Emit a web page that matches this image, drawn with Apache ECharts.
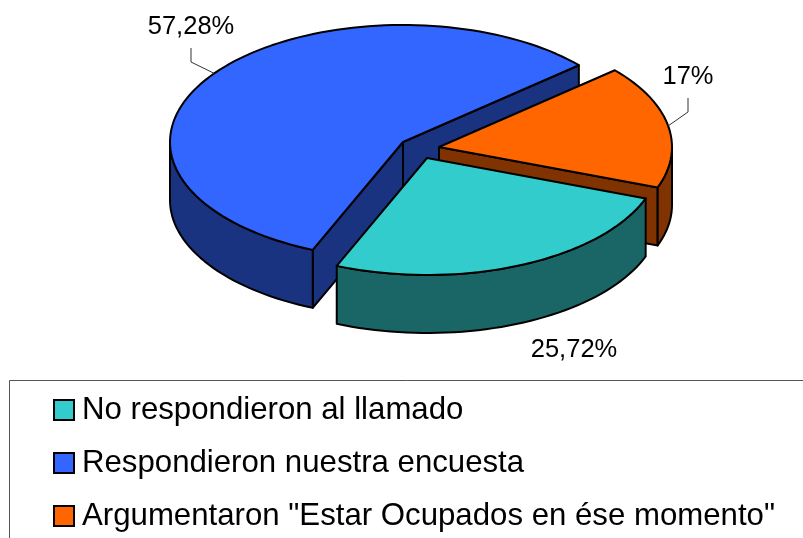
<!DOCTYPE html>
<html>
<head>
<meta charset="utf-8">
<title>Encuesta</title>
<script src="https://cdn.jsdelivr.net/npm/echarts@6/dist/echarts.min.js"></script>
<style>
    html, body { margin: 0; padding: 0; background: #fff; }
    #chart { width: 803px; height: 538px; }
</style>
</head>
<body>
<div id="chart"></div>
<script>
const categories = ['No respondieron al llamado', 'Respondieron nuestra encuesta', 'Argumentaron "Estar Ocupados en ése momento"'];
const values = [25.72, 57.28, 17];
const valueLabels = ['25,72%', '57,28%', '17%'];
const topColors = ['#33cccc', '#3366ff', '#ff6600'];
const wallColors = ['#1a6666', '#1a3380', '#803300'];

// layout of the fake 3d pie
const RX = 233;
const RY = 117;
const DEPTH = 58;
const START_ANGLE = 41;
const drawOrder = [1, 2, 0];
const apexes = [[427, 158], [403, 142], [439, 147]];
const labelSpots = [[574, 350], [191, 27], [688, 77]];
const leaderElbows = [null, [[191, 62], [191, 48]], [[688, 112], [688, 98]]];
// which cut edges show a wall: blue shows both, orange only its lower one
const cutFaces = [[], ['from', 'to'], ['from']];

const total = values.reduce((a, b) => a + b, 0);
// slices run counter clockwise from START_ANGLE: blue, teal, orange
const sliceSequence = [1, 0, 2];
const sliceStarts = {};
let cursor = START_ANGLE;
sliceSequence.forEach(i => {
    sliceStarts[i] = cursor;
    cursor += values[i] / total * 360;
});

const rimPoint = (apex, deg, drop) => {
    const rad = deg * Math.PI / 180;
    return [apex[0] + RX * Math.cos(rad), apex[1] - RY * Math.sin(rad) + drop];
};

const arcPoints = (apex, from, to, drop) => {
    const pts = [];
    const steps = Math.max(2, Math.ceil(Math.abs(to - from) / 2));
    for (let s = 0; s <= steps; s++) {
        pts.push(rimPoint(apex, from + (to - from) * s / steps, drop));
    }
    return pts;
};

const face = (points, fill) => ({
    type: 'polygon',
    shape: { points },
    style: { fill, stroke: '#000', lineWidth: 2, lineJoin: 'round' },
    silent: true
});

// only the rim facing the viewer needs an outer wall
const frontRanges = (from, to) => {
    const ranges = [];
    [[180, 360], [540, 720]].forEach(([a, b]) => {
        const lo = Math.max(from, a);
        const hi = Math.min(to, b);
        if (hi > lo) ranges.push([lo, hi]);
    });
    return ranges;
};

const renderSlice = i => (params, api) => {
    const from = sliceStarts[i];
    const to = from + api.value(0) / total * 360;
    const apex = apexes[i];
    const below = [apex[0], apex[1] + DEPTH];
    const wall = wallColors[i];
    const children = [];

    cutFaces[i].forEach(side => {
        const cut = side === 'from' ? from : to;
        children.push(face([apex, rimPoint(apex, cut, 0), rimPoint(apex, cut, DEPTH), below], wall));
    });

    frontRanges(from, to).forEach(([lo, hi]) => {
        children.push(face(arcPoints(apex, lo, hi, 0).concat(arcPoints(apex, hi, lo, DEPTH)), wall));
    });

    children.push(face([apex].concat(arcPoints(apex, from, to, 0)), topColors[i]));

    if (leaderElbows[i]) {
        children.push({
            type: 'polyline',
            shape: { points: [rimPoint(apex, (from + to) / 2, 0)].concat(leaderElbows[i]) },
            style: { fill: null, stroke: '#333', lineWidth: 1 },
            silent: true
        });
    }
    children.push({
        type: 'text',
        x: labelSpots[i][0],
        y: labelSpots[i][1],
        style: {
            text: valueLabels[i],
            fill: '#000',
            font: '25.5px "Liberation Sans"',
            align: 'center',
            verticalAlign: 'middle'
        },
        silent: true
    });
    return { type: 'group', children };
};

const chart = echarts.init(document.getElementById('chart'), null, { renderer: 'canvas' });
chart.setOption({
    animation: false,
    backgroundColor: '#fff',
    legend: {
        data: categories,
        orient: 'vertical',
        left: 48,
        top: 393,
        padding: [0, 0, 0, 5],
        itemGap: 19,
        itemWidth: 20,
        itemHeight: 20,
        icon: 'rect',
        selectedMode: false,
        itemStyle: { borderColor: '#000', borderWidth: 2 },
        textStyle: { fontFamily: 'Liberation Sans', fontSize: 31.2, color: '#000', padding: [0, 0, 0, 3], lineHeight: 34 }
    },
    graphic: [{
        type: 'polyline',
        shape: { points: [[803, 380.5], [9.5, 380.5], [9.5, 538]] },
        style: { fill: null, stroke: '#555', lineWidth: 1 },
        silent: true
    }],
    series: drawOrder.map(i => ({
        type: 'custom',
        name: categories[i],
        coordinateSystem: 'none',
        itemStyle: { color: topColors[i] },
        data: [[values[i]]],
        renderItem: renderSlice(i),
        silent: true
    }))
});
</script>
</body>
</html>
